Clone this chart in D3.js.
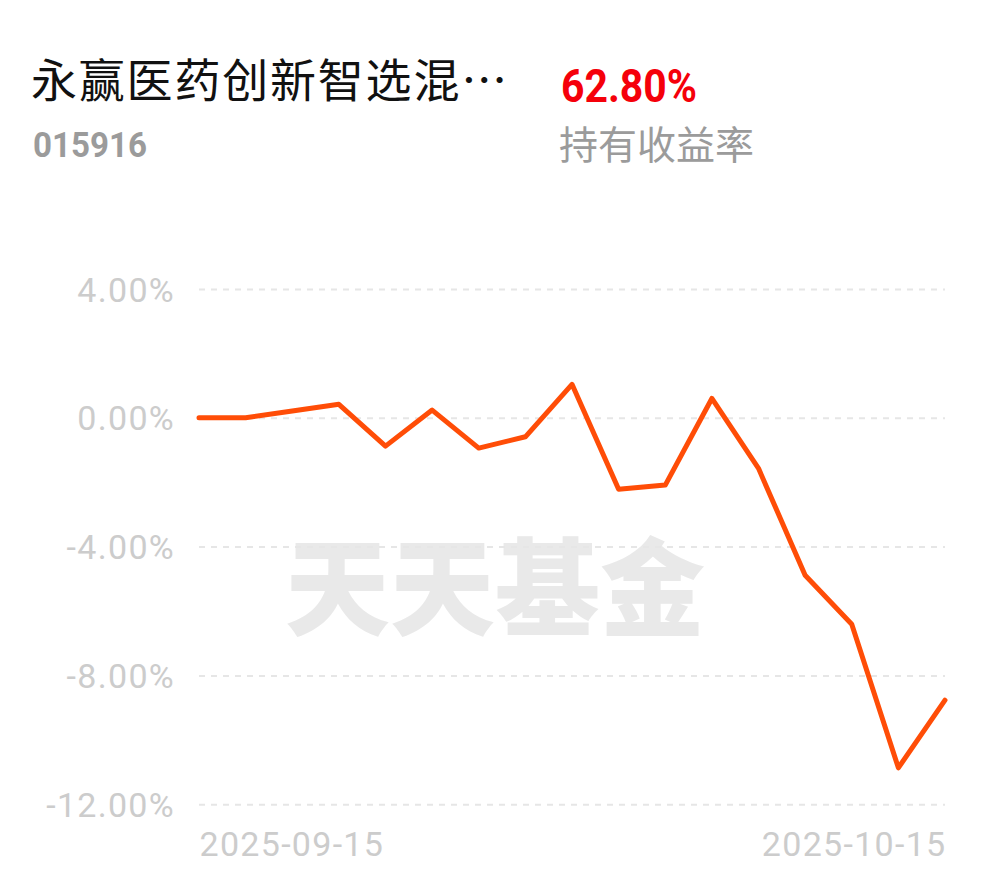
<!DOCTYPE html>
<html>
<head>
<meta charset="utf-8">
<script src="https://cdn.jsdelivr.net/npm/d3@7"></script>
<style>
  html, body { margin: 0; padding: 0; background: #ffffff; }
  svg { display: block; }
</style>
</head>
<body>
<div id="chart"></div>
<script>
// ---- data ----
const fundName = "永赢医药创新智选混…";
const fundCode = "015916";
const holdReturn = "62.80%";
const holdReturnLabel = "持有收益率";
const watermark = "天天基金";

const dates = [
  "2025-09-15", "2025-09-16", "2025-09-17", "2025-09-18", "2025-09-19",
  "2025-09-22", "2025-09-23", "2025-09-24", "2025-09-25", "2025-09-26",
  "2025-09-29", "2025-09-30", "2025-10-09", "2025-10-10", "2025-10-13",
  "2025-10-14", "2025-10-15"
];
const returns = [
  0.00, 0.00, 0.21, 0.42, -0.88, 0.24, -0.94, -0.59, 1.04, -2.22,
  -2.09, 0.60, -1.57, -4.89, -6.41, -10.87, -8.77
];
const yTicks = [4, 0, -4, -8, -12];
const xTickLabels = ["2025-09-15", "2025-10-15"];

// ---- drawing ----
const W = 990, H = 878;
const svg = d3.select("#chart").append("svg")
  .attr("width", W).attr("height", H)
  .attr("viewBox", `0 0 ${W} ${H}`);

svg.append("rect").attr("width", W).attr("height", H).attr("fill", "#ffffff");

const plotLeft = 199, plotRight = 945, plotTop = 289, plotBottom = 804.2;

const x = d3.scalePoint().domain(dates).range([plotLeft, plotRight]);
const y = d3.scaleLinear().domain([-12, 4]).range([plotBottom, plotTop]);

const latin = "Roboto, 'Noto Sans', sans-serif";
const cjk = "'Noto Sans CJK SC', 'Noto Sans', sans-serif";
const fmt = d3.formatLocale({decimal: ".", thousands: ",", grouping: [3], currency: ["", ""], minus: "-"}).format(".2f");

// header
svg.append("text")
  .attr("x", 31).attr("y", 97)
  .attr("font-family", cjk).attr("font-size", 46)
  .attr("letter-spacing", 1.8)
  .attr("fill", "#111111")
  .text(fundName);

svg.append("text")
  .attr("x", 33).attr("y", 156.5)
  .attr("font-family", latin).attr("font-weight", 700).attr("font-size", 35)
  .attr("fill", "#9b9b9b")
  .attr("textLength", 114).attr("lengthAdjust", "spacingAndGlyphs")
  .text(fundCode);

svg.append("text")
  .attr("x", 561).attr("y", 101.5)
  .attr("font-family", latin).attr("font-weight", 700).attr("font-size", 47)
  .attr("fill", "#f5000a")
  .attr("textLength", 136).attr("lengthAdjust", "spacingAndGlyphs")
  .text(holdReturn);

svg.append("text")
  .attr("x", 559).attr("y", 159)
  .attr("font-family", cjk).attr("font-size", 39)
  .attr("fill", "#9b9b9b")
  .text(holdReturnLabel);

// watermark
svg.append("text")
  .attr("x", 495).attr("y", 627)
  .attr("text-anchor", "middle")
  .attr("font-family", cjk).attr("font-weight", 800).attr("font-size", 106)
  .attr("fill", "#e9e9e9")
  .attr("textLength", 420).attr("lengthAdjust", "spacingAndGlyphs")
  .text(watermark);

// y gridlines + labels via axis
const yAxis = d3.axisLeft(y)
  .tickValues(yTicks)
  .tickSize(-(plotRight - plotLeft))
  .tickPadding(24)
  .tickFormat(d => fmt(d) + "%");

const gy = svg.append("g")
  .attr("transform", `translate(${plotLeft},0)`)
  .call(yAxis);
gy.select(".domain").remove();
gy.selectAll(".tick line")
  .attr("stroke", "#e6e6e6")
  .attr("stroke-width", 2)
  .attr("stroke-dasharray", "6,6");
gy.selectAll(".tick text")
  .attr("font-family", latin)
  .attr("font-size", 34)
  .attr("letter-spacing", 1.3)
  .attr("fill", "#cccccc")
  .attr("dy", 12);

// x labels
const xAxis = d3.axisBottom(x)
  .tickValues(xTickLabels)
  .tickSize(0)
  .tickPadding(0);
const gx = svg.append("g")
  .attr("transform", `translate(0,${plotBottom})`)
  .call(xAxis);
gx.select(".domain").remove();
gx.selectAll(".tick text")
  .attr("font-family", latin)
  .attr("font-size", 34)
  .attr("letter-spacing", 1.3)
  .attr("fill", "#cccccc")
  .attr("y", 52)
  .attr("dy", 0)
  .attr("text-anchor", (d, i) => i === 0 ? "start" : "end")
  .attr("dx", (d, i) => i === 0 ? 0 : 1);

// line
const line = d3.line()
  .x((d, i) => x(dates[i]))
  .y(d => y(d));

svg.append("path")
  .datum(returns)
  .attr("d", line)
  .attr("fill", "none")
  .attr("stroke", "#ff4d07")
  .attr("stroke-width", 5)
  .attr("stroke-linejoin", "round")
  .attr("stroke-linecap", "round");
</script>
</body>
</html>
